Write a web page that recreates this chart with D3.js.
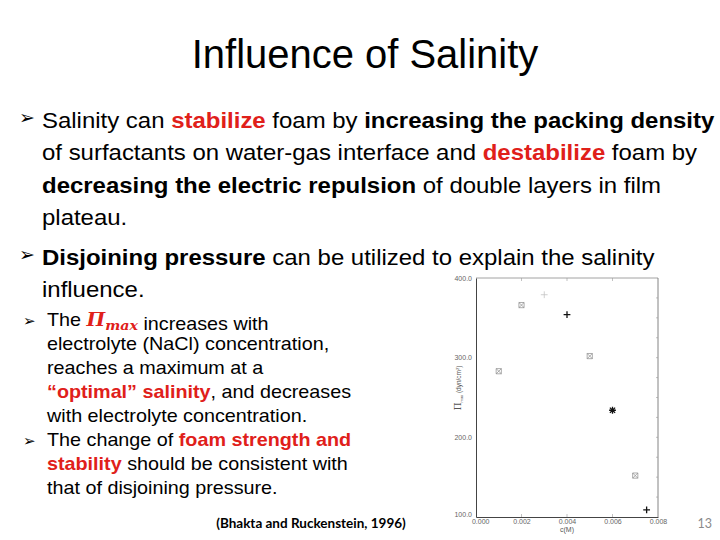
<!DOCTYPE html>
<html>
<head>
<meta charset="utf-8">
<script src="https://cdn.jsdelivr.net/npm/d3@7"></script>
<style>
  body { margin: 0; background: #fff; }
  svg { display: block; }
</style>
</head>
<body>
<div id="d3-container"></div>
<script>
/**
 * CONSTANTS AND GLOBALS
 * */
const width = 720,
  height = 540,
  plot = { left: 476, right: 658, top: 278, bottom: 517 };

// data (Bhakta and Ruckenstein, 1996)
const concentration = [0.001, 0.002, 0.003, 0.004, 0.005, 0.006, 0.007, 0.0075];
const piMax = [283, 366, 379, 354, 302, 234, 152, 109];
const markerType = ["x", "x", "faint", "+", "x", "*", "x", "+"];

const xTicks = [0, 0.002, 0.004, 0.006, 0.008];
const yTicks = [100, 200, 300, 400];

const red = "#e0201a";

// slide text, one array per line: [text, weight, colour]
const topLines = [
  [["Salinity can ", "n"], ["stabilize", "b", red], [" foam by ", "n"], ["increasing the packing density", "b"]],
  [["of surfactants on water-gas interface and ", "n"], ["destabilize", "b", red], [" foam by", "n"]],
  [["decreasing the electric repulsion", "b"], [" of double layers in film", "n"]],
  [["plateau.", "n"]],
  [["Disjoining pressure", "b"], [" can be utilized to explain the salinity", "n"]],
  [["influence.", "n"]]
];
const topBaselines = [128, 160, 192.5, 225, 265, 297];
const topBullets = [0, 4];

const lowLines = [
  [["The ", "n"], ["PI", "pi"], [" increases with", "n"]],
  [["electrolyte (NaCl) concentration,", "n"]],
  [["reaches a maximum at a", "n"]],
  [["\u201coptimal\u201d salinity", "b", red], [", and decreases", "n"]],
  [["with electrolyte concentration.", "n"]],
  [["The change of ", "n"], ["foam strength and", "b", red]],
  [["stability", "b", red], [" should be consistent with", "n"]],
  [["that of disjoining pressure.", "n"]]
];
const lowBaselines = [326, 350, 374, 398, 422, 446, 470, 494];
const lowBullets = [0, 5];

let svg;

/**
 * WRITE ONE LINE OF MIXED TEXT
 * */
function writeLine(g, segs, x, y, size, sx) {
  const t = g.append("text")
    .attr("transform", `translate(${x},${y}) scale(${sx},1)`)
    .attr("font-family", "'Liberation Sans', Arial, sans-serif")
    .attr("font-size", size)
    .attr("fill", "#000");
  segs.forEach(s => {
    if (s[1] === "pi") {
      t.append("tspan")
        .attr("font-family", "'DejaVu Serif', serif")
        .attr("font-weight", "bold")
        .attr("font-style", "italic")
        .attr("fill", red)
        .text("\u03A0");
      t.append("tspan")
        .attr("font-family", "'DejaVu Serif', serif")
        .attr("font-weight", "bold")
        .attr("font-style", "italic")
        .attr("font-size", size * 0.72)
        .attr("dy", 4)
        .attr("fill", red)
        .text("max");
      t.append("tspan").attr("dy", -4).text("");
    } else {
      t.append("tspan")
        .attr("font-weight", s[1] === "b" ? "bold" : "normal")
        .attr("fill", s[2] || "#000")
        .text(s[0]);
    }
  });
  return t;
}

function bullet(g, x, y, size) {
  g.append("text")
    .attr("x", x)
    .attr("y", y)
    .attr("font-family", "'DejaVu Sans', sans-serif")
    .attr("font-size", size)
    .attr("fill", "#000")
    .text("\u27A2");
}

/**
 * INIT
 * */
function init() {
  svg = d3.select("#d3-container")
    .append("svg")
    .attr("width", width)
    .attr("height", height)
    .style("white-space", "pre");

  svg.append("rect").attr("width", width).attr("height", height).attr("fill", "#fff");

  // TITLE
  svg.append("text")
    .attr("transform", `translate(365,68) scale(0.975,1)`)
    .attr("text-anchor", "middle")
    .attr("font-family", "'Liberation Sans', Arial, sans-serif")
    .attr("font-size", 41)
    .attr("fill", "#000")
    .text("Influence of Salinity");

  // UPPER TEXT
  const top = svg.append("g");
  topLines.forEach((segs, i) => writeLine(top, segs, 42, topBaselines[i], 22.5, 1.065));
  topBullets.forEach(i => bullet(top, 19, topBaselines[i] - 4, 19));

  // LOWER TEXT
  const low = svg.append("g");
  lowLines.forEach((segs, i) => writeLine(low, segs, 47, lowBaselines[i], 19, 1.04));
  lowBullets.forEach(i => bullet(low, 23, lowBaselines[i], 15));

  // FOOTER
  svg.append("text")
    .attr("x", 311)
    .attr("y", 527.5)
    .attr("text-anchor", "middle")
    .attr("font-family", "Lato, sans-serif")
    .attr("font-weight", "bold")
    .attr("font-size", 13.5)
    .attr("fill", "#000")
    .text("(Bhakta and Ruckenstein, 1996)");

  svg.append("text")
    .attr("x", 712)
    .attr("y", 527.5)
    .attr("text-anchor", "end")
    .attr("font-family", "Lato, sans-serif")
    .attr("font-size", 12.5)
    .attr("fill", "#8a8a8a")
    .text("13");

  drawChart();
}

/**
 * SCATTER PLOT
 * */
function drawChart() {
  const xScale = d3.scaleLinear()
    .domain([0, 0.008])
    .range([plot.left, plot.right]);

  const yScale = d3.scaleLinear()
    .domain([100, 400])
    .range([plot.bottom, plot.top]);

  const chart = svg.append("g")
    .attr("font-family", "'Liberation Sans', Arial, sans-serif");

  // frame
  chart.append("line")
    .attr("x1", plot.left).attr("x2", plot.right)
    .attr("y1", plot.top).attr("y2", plot.top)
    .attr("stroke", "#8c8c8c").attr("stroke-width", 0.8);
  chart.append("line")
    .attr("x1", plot.right).attr("x2", plot.right)
    .attr("y1", plot.top).attr("y2", plot.bottom)
    .attr("stroke", "#777").attr("stroke-width", 0.9);

  // y axis
  const yAxis = d3.axisLeft(yScale)
    .tickValues(yTicks)
    .tickFormat(d3.format(".1f"))
    .tickSize(0)
    .tickPadding(4);
  const ya = chart.append("g")
    .attr("transform", `translate(${plot.left},0)`)
    .call(yAxis);
  ya.select(".domain").attr("stroke", "#444").attr("stroke-width", 1);
  ya.selectAll("text")
    .attr("font-family", "'Liberation Sans', Arial, sans-serif")
    .attr("font-size", 7)
    .attr("fill", "#666");
  ya.selectAll(".tick")
    .filter(d => d === 100)
    .select("text")
    .attr("dy", "-0.1em");

  // x axis
  const xAxis = d3.axisBottom(xScale)
    .tickValues(xTicks)
    .tickFormat(d3.format(".3f"))
    .tickSize(0)
    .tickPadding(2);
  const xa = chart.append("g")
    .attr("transform", `translate(0,${plot.bottom})`)
    .call(xAxis);
  xa.select(".domain").attr("stroke", "#444").attr("stroke-width", 1);
  xa.selectAll("text")
    .attr("font-family", "'Liberation Sans', Arial, sans-serif")
    .attr("font-size", 7)
    .attr("fill", "#666");
  xa.selectAll(".tick")
    .filter(d => d === 0)
    .select("text")
    .attr("dx", "0.6em");

  // small inward ticks on all four sides
  const inner = chart.append("g").attr("stroke", "#999").attr("stroke-width", 0.6);
  xTicks.slice(1, -1).forEach(v => {
    inner.append("line")
      .attr("x1", xScale(v)).attr("x2", xScale(v))
      .attr("y1", plot.bottom).attr("y2", plot.bottom - 3);
    inner.append("line")
      .attr("x1", xScale(v)).attr("x2", xScale(v))
      .attr("y1", plot.top).attr("y2", plot.top + 3);
  });
  d3.range(125, 400, 25).forEach(v => {
    inner.append("line")
      .attr("x1", plot.right).attr("x2", plot.right - 2)
      .attr("y1", yScale(v)).attr("y2", yScale(v));
  });

  // axis titles
  chart.append("text")
    .attr("transform", `translate(461,${yScale(262)}) rotate(-90)`)
    .attr("text-anchor", "middle")
    .attr("font-size", 6.5)
    .attr("fill", "#555")
    .call(t => {
      t.append("tspan").attr("font-family", "'DejaVu Serif', serif").attr("font-size", 9).text("\u03A0");
      t.append("tspan").attr("font-size", 4).attr("dy", 2).text("max");
      t.append("tspan").attr("dy", -2).text(" (dyn/cm");
      t.append("tspan").attr("font-size", 4).attr("dy", -2).text("2");
      t.append("tspan").attr("dy", 2).text(")");
    });

  chart.append("text")
    .attr("x", xScale(0.004))
    .attr("y", 532)
    .attr("text-anchor", "middle")
    .attr("font-size", 7)
    .attr("fill", "#555")
    .text("c(M)");

  // points
  const pts = concentration.map((c, i) => ({ c: c, p: piMax[i], m: markerType[i] }));
  const sym = d => {
    const a = 2.6, b = 3.4;
    const cross = `M${-a},${-a}L${a},${a}M${-a},${a}L${a},${-a}`;
    const plus = `M${-b},0L${b},0M0,${-b}L0,${b}`;
    if (d.m === "x") return cross + `M${-a},${-a}H${a}V${a}H${-a}Z`;
    if (d.m === "*") return cross + plus;
    return plus;
  };

  chart.selectAll(".dot")
    .data(pts)
    .join("path")
    .attr("class", "dot")
    .attr("transform", d => `translate(${xScale(d.c)},${yScale(d.p)})`)
    .attr("d", sym)
    .attr("fill", "none")
    .attr("stroke", d => d.m === "x" ? "#8a8a8a" : d.m === "faint" ? "#c4c4c4" : "#111")
    .attr("stroke-width", d => d.m === "x" ? 0.7 : d.m === "faint" ? 0.8 : 1.3);
}

init();
</script>
</body>
</html>
